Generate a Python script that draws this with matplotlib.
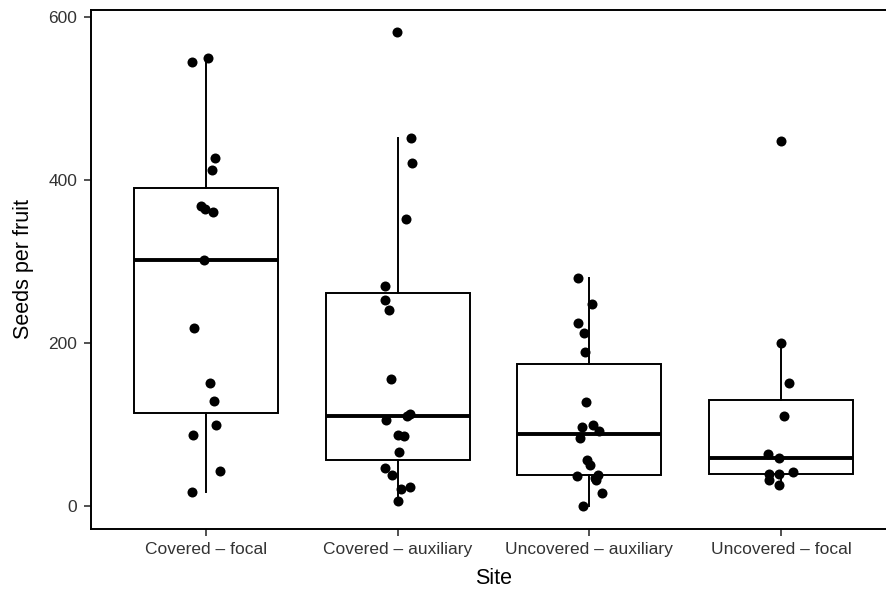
import numpy as np
import matplotlib
matplotlib.use('Agg')
import matplotlib.pyplot as plt

plt.rcParams['font.family'] = ['Liberation Sans', 'DejaVu Sans']

# Site categories (x axis)
sites = ['Covered – focal', 'Covered – auxiliary', 'Uncovered – auxiliary', 'Uncovered – focal']

# Seeds per fruit for each site
covered_focal = [545, 549, 427, 412, 368, 364, 361, 302, 218, 151, 129, 99, 87, 42, 17]
covered_aux = [581, 451, 420, 352, 270, 253, 240, 155, 112, 110, 105, 87, 86, 66, 46, 38, 21, 23, 6]
uncovered_aux = [280, 248, 224, 212, 189, 127, 96, 99, 92, 83, 56, 50, 37, 38, 31, 15, 0, 34]
uncovered_focal = [447, 200, 150, 110, 64, 58, 41, 39, 39, 32, 25]

# horizontal jitter of each point (in category units), as seen in the picture
jit_covered_focal = [-0.073, 0.010, 0.047, 0.031, -0.026, -0.005, 0.036, -0.010, -0.063,
                     0.021, 0.042, 0.052, -0.068, 0.073, -0.073]
jit_covered_aux = [-0.002, 0.068, 0.074, 0.043, -0.068, -0.068, -0.043, -0.035, 0.066, 0.047,
                   -0.061, 0.002, 0.035, 0.007, -0.064, -0.031, 0.016, 0.064, 0.002]
jit_uncovered_aux = [-0.059, 0.016, -0.061, -0.026, -0.024, -0.019, -0.036, 0.019, 0.048,
                     -0.047, -0.012, 0.005, -0.066, 0.047, 0.035, 0.068, -0.033, 0.030]
jit_uncovered_focal = [0.002, 0.0, 0.042, 0.016, -0.066, -0.010, 0.061, -0.061, -0.010,
                       -0.061, -0.010]

groups = [covered_focal, covered_aux, uncovered_aux, uncovered_focal]
jitters = [jit_covered_focal, jit_covered_aux, jit_uncovered_aux, jit_uncovered_focal]
positions = np.arange(1, len(sites) + 1)

fig = plt.figure(figsize=(8.87, 5.98), dpi=100)
ax = fig.add_axes([91 / 887, 69.5 / 598, 805 / 887, 519 / 598])

# boxplots, outliers hidden (points are drawn on top)
ax.boxplot(groups, positions=positions, widths=0.75, showfliers=False, showcaps=False,
           whis=1.5, patch_artist=True,
           boxprops=dict(facecolor='white', edgecolor='black', linewidth=1.4),
           whiskerprops=dict(color='black', linewidth=1.4),
           medianprops=dict(color='black', linewidth=2.8),
           zorder=2)

# jittered points
for pos, vals, jit in zip(positions, groups, jitters):
    ax.scatter(pos + np.array(jit), vals, s=52, color='black', zorder=3, linewidths=0)

ax.set_xlim(0.4, 4.6)
ax.set_ylim(-28, 609)
ax.set_xticks(positions)
ax.set_xticklabels(sites)
ax.set_yticks([0, 200, 400, 600])

for sp in ax.spines.values():
    sp.set_linewidth(1.4)
    sp.set_color('black')

ax.tick_params(axis='both', length=5, width=1.2, color='#333333', labelsize=12.5,
               labelcolor='#333333', pad=5)

ax.set_xlabel('Site', fontsize=15.5, color='black', labelpad=8)
ax.set_ylabel('Seeds per fruit', fontsize=15.5, color='black', labelpad=10)

fig.savefig('out.png', dpi=100)
